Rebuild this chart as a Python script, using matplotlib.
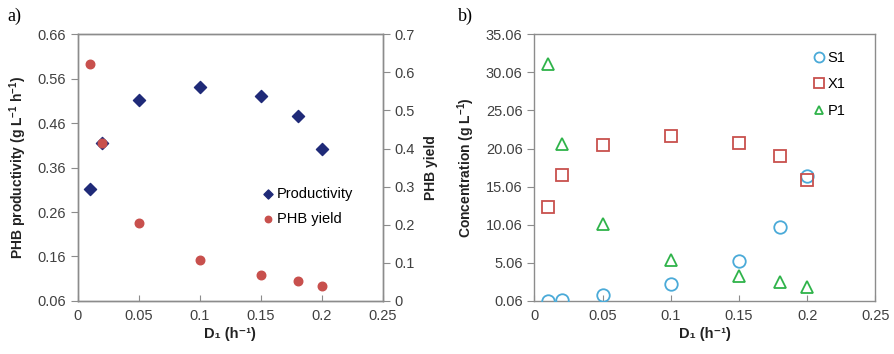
import numpy as np
import matplotlib.pyplot as plt

plt.rcParams['font.family'] = ['Liberation Sans', 'DejaVu Sans']
plt.rcParams['mathtext.fontset'] = 'custom'
plt.rcParams['mathtext.rm'] = 'Liberation Sans'
plt.rcParams['mathtext.bf'] = 'Liberation Sans:bold'
plt.rcParams['mathtext.it'] = 'Liberation Sans:italic'

# panel a data
d_prod = [0.01, 0.02, 0.05, 0.1, 0.15, 0.18, 0.2]
productivity = [0.311, 0.415, 0.512, 0.541, 0.522, 0.476, 0.401]
d_yield = [0.01, 0.02, 0.05, 0.1, 0.15, 0.18, 0.2]
phb_yield = [0.622, 0.414, 0.204, 0.108, 0.068, 0.051, 0.039]

# panel b data
d_conc = [0.01, 0.02, 0.05, 0.1, 0.15, 0.18, 0.2]
s1 = [0.06, 0.24, 0.85, 2.29, 5.35, 9.77, 16.5]
x1 = [12.44, 16.6, 20.49, 21.72, 20.84, 19.09, 15.94]
p1 = [31.12, 20.62, 10.21, 5.40, 3.39, 2.55, 1.94]

x_ticks = [0, 0.05, 0.1, 0.15, 0.2, 0.25]
x_ticklabels = ['0', '0.05', '0.1', '0.15', '0.2', '0.25']
prod_ticks = [0.06, 0.16, 0.26, 0.36, 0.46, 0.56, 0.66]
yield_ticks = [0, 0.1, 0.2, 0.3, 0.4, 0.5, 0.6, 0.7]
conc_ticks = [0.06, 5.06, 10.06, 15.06, 20.06, 25.06, 30.06, 35.06]

grey = '#8c8c8c'
txt = '#404040'
navy = '#1f2a78'
red = '#c8504d'
blue = '#4aaad8'
green = '#2fb34a'

fig = plt.figure(figsize=(8.95, 3.54), dpi=100)

def style(ax):
    for s in ax.spines.values():
        s.set_color(grey)
        s.set_linewidth(1.0)
    ax.tick_params(axis='both', colors=grey, labelcolor=txt, labelsize=10.5)
    ax.tick_params(axis='x', direction='in', length=4, pad=6)
    ax.tick_params(axis='y', direction='out', length=5)

xlabel = 'D\u2081 (h\u207b\u00b9)'

# ---- panel a
ax1 = fig.add_axes([0.0868, 0.150, 0.3412, 0.753])
ax1.scatter(d_prod, productivity, marker='D', s=38, color=navy, zorder=3,
            label='Productivity')
ax1.set_xlim(0, 0.25)
ax1.set_ylim(0.06, 0.66)
ax1.set_xticks(x_ticks)
ax1.set_xticklabels(x_ticklabels)
ax1.set_yticks(prod_ticks)
ax1.set_yticklabels([f'{t:.2f}' for t in prod_ticks])
ax1.set_ylabel(r'PHB productivity (g L$^{\mathbf{-1}}$ h$^{\mathbf{-1}}$)',
               fontsize=10, fontweight='bold', color='#222222', labelpad=6)
ax1.set_xlabel(xlabel, fontsize=10.5, fontweight='bold', color='#222222', labelpad=3)
style(ax1)

ax2 = ax1.twinx()
ax2.scatter(d_yield, phb_yield, marker='o', s=38, color=red, zorder=4,
            label='PHB yield')
ax2.set_ylim(0, 0.7)
ax2.set_yticks(yield_ticks)
ax2.set_yticklabels(['0'] + [f'{t:.1f}' for t in yield_ticks[1:]])
ax2.set_ylabel('PHB yield', fontsize=10, fontweight='bold', color='#222222',
               labelpad=6)
style(ax2)

h1, l1 = ax1.get_legend_handles_labels()
h2, l2 = ax2.get_legend_handles_labels()
ax2.legend(h1 + h2, l1 + l2, loc='upper left', bbox_to_anchor=(0.575, 0.45),
           frameon=False, fontsize=10.5, handletextpad=0.0, handlelength=1.2,
           labelspacing=0.75, borderaxespad=0, markerscale=0.75)

fig.text(0.008, 0.955, 'a)', fontsize=13, family='Liberation Serif', va='center')

# ---- panel b
ax3 = fig.add_axes([0.597, 0.150, 0.381, 0.753])
ax3.plot(d_conc, s1, 'o', mfc='none', mec=blue, mew=1.3, ms=9, label='S1', zorder=3)
ax3.plot(d_conc, x1, 's', mfc='none', mec=red, mew=1.3, ms=9, label='X1', zorder=3)
ax3.plot(d_conc, p1, '^', mfc='none', mec=green, mew=1.3, ms=8, label='P1', zorder=3)
ax3.set_xlim(0, 0.25)
ax3.set_ylim(0.06, 35.06)
ax3.set_xticks(x_ticks)
ax3.set_xticklabels(x_ticklabels)
ax3.set_yticks(conc_ticks)
ax3.set_yticklabels([f'{t:.2f}' for t in conc_ticks])
ax3.set_ylabel(r'Concentration (g L$^{\mathbf{-1}}$)', fontsize=10,
               fontweight='bold', color='#222222', labelpad=6)
ax3.set_xlabel(xlabel, fontsize=10.5, fontweight='bold', color='#222222', labelpad=3)
style(ax3)
ax3.legend(loc='upper right', bbox_to_anchor=(0.93, 0.96), frameon=False,
           fontsize=10.5, handletextpad=0.0, handlelength=1.2,
           labelspacing=0.85, borderaxespad=0, markerscale=0.8)

fig.text(0.512, 0.955, 'b)', fontsize=13, family='Liberation Serif', va='center')

fig.savefig('out.png', dpi=100)
